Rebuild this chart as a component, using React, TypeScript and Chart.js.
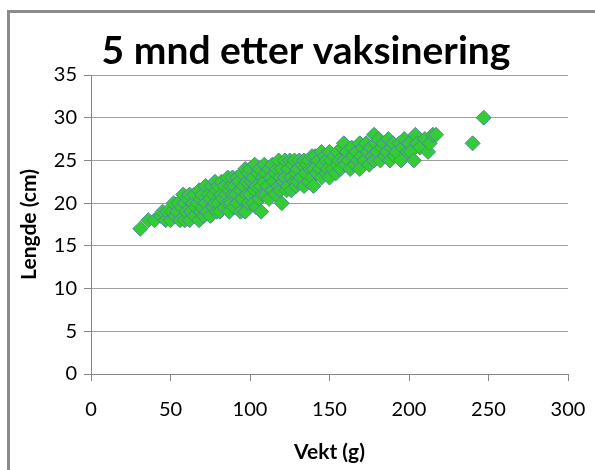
import React, { useEffect, useRef } from "react";
import { Chart, registerables } from "chart.js";

Chart.register(...registerables);

const chartTitle = "5 mnd etter vaksinering";
const xAxisTitle = "Vekt (g)";
const yAxisTitle = "Lengde (cm)";
const xTickValues = [0, 50, 100, 150, 200, 250, 300];
const yTickValues = [0, 5, 10, 15, 20, 25, 30, 35];

// Weight (g)
const weights = [
  31, 36, 40, 44, 45, 47, 48,
  50, 51, 52, 53, 54, 55, 56, 57, 58, 59, 59,
  60, 61, 62, 62, 63, 64, 65, 65, 66, 67, 68, 68, 69, 69,
  70, 70, 71, 72, 72, 73, 74, 75, 75, 76, 77, 77, 78, 78, 79, 79,
  80, 80, 81, 82, 82, 83, 84, 84, 85, 86, 86, 87, 87, 88, 88, 89, 89,
  90, 90, 91, 92, 92, 93, 94, 94, 95, 95, 96, 97, 97, 98, 98, 99, 99,
  100, 100, 101, 102, 102, 103, 103, 104, 104, 105, 106, 106, 107, 107, 108, 108, 109, 109,
  110, 110, 111, 112, 112, 113, 114, 114, 115, 116, 116, 117, 118, 118, 119, 119,
  120, 120, 121, 122, 122, 123, 124, 124, 125, 126, 126, 127, 128, 128, 129, 129,
  130, 130, 131, 132, 133, 134, 134, 135, 136, 137, 137, 138, 139, 139,
  140, 140, 141, 142, 143, 144, 145, 145, 146, 147, 148, 148, 149,
  150, 150, 151, 152, 153, 154, 155, 155, 156, 157, 158, 159, 159,
  160, 161, 162, 163, 164, 165, 166, 167, 168, 169, 169,
  170, 171, 172, 173, 174, 175, 176, 177, 178, 178, 179,
  180, 181, 182, 183, 184, 185, 186, 187, 188, 189,
  190, 191, 192, 194, 195, 196, 197, 199,
  200, 201, 203, 204, 205, 207, 210, 212, 213, 215, 217,
  240, 247,
];

// Length (cm)
const lengths = [
  17, 18, 18, 18.5, 19, 18, 19,
  18, 19, 20, 18.5, 19, 20, 18, 19.5, 21, 18, 20,
  19, 20.5, 18, 21, 19, 20, 18.5, 21, 19.5, 20, 18, 21.5, 19, 20.5,
  19.5, 21, 18.5, 20, 22, 19, 21, 20.5, 18.5, 22, 19.5, 21, 20, 22.5, 19, 21.5,
  20, 22, 19, 21, 22.5, 20.5, 19.5, 22, 21, 20, 23, 19, 21.5, 22, 20, 23, 21,
  19.5, 22, 21, 23, 20, 22.5, 19, 21.5, 23.5, 20.5, 22, 19, 24, 21, 22.5, 20, 23.5,
  21, 24, 22.5, 20, 23, 24.5, 21.5, 19.5, 22, 23.5, 20.5, 24, 22, 19, 23, 21, 24.5, 22.5,
  21, 23.5, 22, 24, 20.5, 23, 21.5, 24.5, 22.5, 23.5, 21, 24, 22, 25, 23, 21.5,
  20, 24, 22.5, 25, 23, 21.5, 24, 22, 25, 23, 21.5, 24.5, 22.5, 25, 23.5, 22,
  24, 22.5, 25, 23, 24.5, 22, 25, 23.5, 24.5, 22.5, 25, 24, 23, 25.5,
  24, 22, 25.5, 23.5, 25, 24, 26, 23, 24.5, 25.5, 23.5, 25, 24,
  26, 23, 25, 24, 25.5, 23.5, 26, 24.5, 25, 24, 26.5, 25, 27,
  24.5, 26, 25, 24, 26.5, 25.5, 24.5, 26, 25, 27, 24,
  25.5, 26.5, 25, 27, 26, 24.5, 26.5, 25.5, 28, 25, 27,
  26, 27.5, 25, 26.5, 27, 25.5, 26, 27.5, 25, 26.5,
  27, 25.5, 26, 27, 25, 26.5, 27.5, 26,
  27, 26, 25, 28, 27, 26.5, 27.5, 26, 27, 28, 28,
  27, 30,
];

const FONT = "Lato, 'Liberation Sans', sans-serif";

export default function App() {
  const canvasRef = useRef<HTMLCanvasElement | null>(null);

  useEffect(() => {
    document.body.style.margin = "0";
    const canvas = canvasRef.current;
    if (!canvas) return;

    const points = weights.map((w, i) => ({ x: w, y: lengths[i] }));

    const titlePlugin = {
      id: "customTitle",
      afterDraw(chart: any) {
        const ctx = chart.ctx;
        ctx.save();
        ctx.font = `bold 39px ${FONT}`;
        ctx.fillStyle = "#000";
        ctx.textAlign = "center";
        ctx.textBaseline = "middle";
        ctx.fillText(chartTitle, 306, 51);
        ctx.restore();
      },
    };

    const chart = new Chart(canvas, {
      type: "scatter",
      data: {
        datasets: [
          {
            data: points,
            pointStyle: "rectRot",
            pointRadius: 7.5,
            pointHoverRadius: 7.5,
            backgroundColor: "#33CC33",
            borderColor: "#4F86AA",
            borderWidth: 1,
          },
        ],
      },
      options: {
        responsive: false,
        animation: false,
        devicePixelRatio: 1,
        layout: { padding: { top: 75, right: 27, left: 0, bottom: 0 } },
        plugins: {
          legend: { display: false },
          tooltip: { enabled: false },
          title: { display: false },
        },
        scales: {
          x: {
            type: "linear",
            min: 0,
            max: 300,
            afterBuildTicks: (scale: any) => {
              scale.ticks = xTickValues.map((v) => ({ value: v }));
            },
            afterFit: (scale: any) => {
              scale.height = 96;
              scale.paddingLeft = 0;
              scale.paddingRight = 0;
            },
            ticks: {
              color: "#000",
              font: { family: FONT, size: 20 },
              padding: 17,
              maxRotation: 0,
            },
            grid: {
              drawOnChartArea: false,
              tickLength: 7,
              color: "#868686",
            },
            border: { color: "#868686", width: 1 },
            title: {
              display: true,
              text: xAxisTitle,
              color: "#000",
              font: { family: FONT, size: 21, weight: "bold" },
              padding: { top: 0, bottom: 5 },
            },
          },
          y: {
            type: "linear",
            min: 0,
            max: 35,
            afterBuildTicks: (scale: any) => {
              scale.ticks = yTickValues.map((v) => ({ value: v }));
            },
            afterFit: (scale: any) => {
              scale.width = 91;
            },
            ticks: {
              color: "#000",
              font: { family: FONT, size: 20 },
              padding: 7,
            },
            grid: {
              color: "#a0a0a0",
              tickColor: "#868686",
              tickLength: 7,
            },
            border: { color: "#868686", width: 1 },
            title: {
              display: true,
              text: yAxisTitle,
              color: "#000",
              font: { family: FONT, size: 21, weight: "bold" },
              padding: { top: 17, bottom: 0 },
            },
          },
        },
      },
      plugins: [titlePlugin],
    });

    return () => {
      chart.destroy();
    };
  }, []);

  return (
    <div
      style={{
        position: "relative",
        width: 595,
        height: 470,
        overflow: "hidden",
        background: "#fff",
      }}
    >
      <canvas
        ref={canvasRef}
        width={595}
        height={470}
        style={{ position: "absolute", left: 0, top: 0, width: 595, height: 470 }}
      />
      <div
        style={{
          position: "absolute",
          left: 7,
          top: 10,
          width: 1000,
          height: 1000,
          border: "3px solid #8c8c8c",
          pointerEvents: "none",
        }}
      />
    </div>
  );
}
